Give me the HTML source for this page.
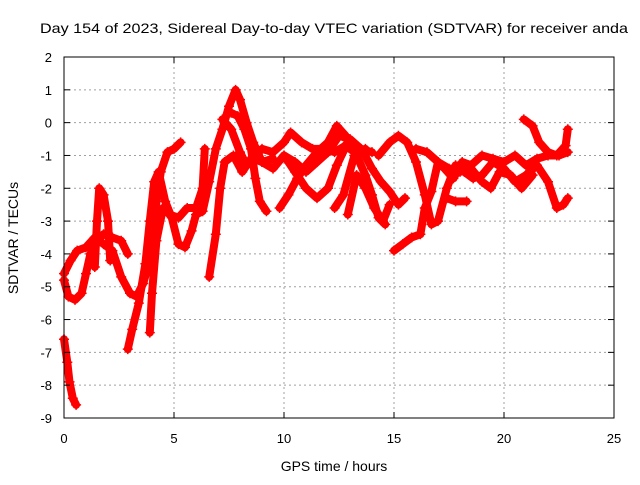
<!DOCTYPE html>
<html><head><meta charset="utf-8"><style>
body{margin:0;background:#fff;}
svg text{font-family:"Liberation Sans",sans-serif;fill:#000;}
</style></head><body>
<svg id="chart" width="640" height="480" viewBox="0 0 640 480" xmlns="http://www.w3.org/2000/svg">
<rect width="640" height="480" fill="#fff"/>
<text x="334" y="33" font-size="14" text-anchor="middle" textLength="588" lengthAdjust="spacingAndGlyphs">Day 154 of 2023, Sidereal Day-to-day VTEC variation (SDTVAR) for receiver anda</text>
<g id="grid"></g>
<g id="series"></g>
<rect x="64" y="57" width="550" height="361" fill="none" stroke="#000" stroke-width="1"/>
<g id="ticks"></g>
<text x="334" y="471" font-size="14" text-anchor="middle">GPS time / hours</text>
<text x="18" y="238" font-size="14" text-anchor="middle" transform="rotate(-90 18 238)">SDTVAR / TECUs</text>
</svg>
<script>
const xTicks=[0,5,10,15,20,25];
const yTicks=[2,1,0,-1,-2,-3,-4,-5,-6,-7,-8,-9];
const s1=[[0,-6.6],[0.15,-7.3],[0.25,-7.9],[0.4,-8.4],[0.55,-8.6]];
const s2=[[0,-4.6],[0.3,-4.2],[0.6,-3.9],[1.0,-3.8],[1.4,-3.5],[1.8,-3.7],[2.2,-3.9],[2.6,-4.7],[3.0,-5.2],[3.3,-5.3],[3.6,-4.9],[3.9,-4.2],[4.1,-2.9],[4.4,-1.5],[4.7,-0.9],[5.0,-0.8],[5.3,-0.6]];
const s3=[[0,-4.8],[0.2,-5.3],[0.5,-5.4],[0.8,-5.2],[1.0,-4.6],[1.2,-4.0],[1.5,-3.6],[1.8,-3.4],[2.2,-3.5],[2.6,-3.6],[2.9,-4.0]];
const s4=[[1.4,-4.4],[1.5,-3.0],[1.6,-2.0],[1.8,-2.2],[2.0,-3.0],[2.1,-4.2]];
const s5=[[2.9,-6.9],[3.1,-6.3],[3.4,-5.5],[3.7,-4.3],[3.9,-3.0],[4.1,-1.8],[4.3,-1.5],[4.6,-2.4],[4.9,-2.9],[5.2,-3.7],[5.5,-3.8],[5.8,-3.3],[6.0,-2.8],[6.3,-2.7],[6.6,-1.8],[6.9,-0.8],[7.2,-0.2],[7.5,0.5],[7.8,1.0],[8.0,0.7],[8.3,0.0],[8.6,-0.6],[9.0,-1.2],[9.5,-1.4],[10.0,-1.0],[10.5,-1.2],[11.0,-1.5],[11.5,-1.2],[12.0,-0.9],[12.5,-0.4],[13.0,-0.5],[13.5,-0.8],[14.0,-0.9]];
const s6=[[3.9,-6.4],[4.0,-5.2],[4.2,-3.6],[4.5,-2.6],[4.8,-2.8],[5.2,-2.9],[5.6,-2.6],[6.0,-2.6],[6.3,-2.0],[6.4,-0.8]];
const s7=[[6.6,-4.7],[6.9,-3.4],[7.1,-2.0],[7.3,-1.2],[7.7,-1.0],[8.1,-1.5],[8.5,-1.1],[9.0,-0.8],[9.5,-0.9],[10.0,-0.6],[10.3,-0.3],[10.8,-0.6],[11.3,-0.8],[11.8,-0.8],[12.3,-0.9],[12.8,-0.7],[13.2,-0.9],[13.7,-0.8]];
const s8=[[7.6,0.3],[7.9,0.2],[8.2,-0.2],[8.5,-0.8],[8.7,-1.7],[8.9,-2.4],[9.2,-2.7]];
const s9=[[7.2,0.1],[7.6,-0.2],[8.0,-0.9],[8.3,-1.3],[8.6,-1.1],[9.0,-1.2],[9.5,-1.1]];
const s10=[[9.8,-2.6],[10.2,-2.2],[10.6,-1.7],[11.0,-1.3],[11.5,-0.9],[12.0,-0.6],[12.4,-0.1],[12.8,-0.4]];
const s11=[[10.0,-1.0],[10.5,-1.5],[11.0,-2.0],[11.5,-2.3],[12.0,-2.0],[12.4,-1.3],[12.9,-0.6],[13.3,-1.0],[13.7,-1.6],[14.0,-2.2],[14.3,-2.9],[14.6,-3.1]];
const s12=[[12.3,-2.6],[12.7,-2.2],[13.2,-1.0],[13.6,-0.9],[14.0,-1.4],[14.4,-1.8],[14.8,-2.1],[15.2,-2.5],[15.5,-2.3]];
const s13=[[12.9,-2.8],[13.3,-1.6],[13.7,-2.0],[14.1,-2.6],[14.5,-3.0],[14.8,-2.5]];
const s14=[[15.0,-3.9],[15.4,-3.7],[15.8,-3.5],[16.2,-3.4],[16.4,-2.6],[16.7,-2.1],[17.0,-1.2],[17.3,-1.4],[17.7,-1.7],[18.1,-1.2],[18.5,-1.3],[19.0,-1.0],[19.5,-1.1],[20.0,-1.2],[20.5,-1.0],[21.0,-1.3],[21.5,-1.1],[22.0,-1.0],[22.5,-1.0],[22.9,-0.9]];
const s15=[[14.3,-1.0],[14.8,-0.6],[15.2,-0.4],[15.6,-0.6],[16.0,-1.2],[16.4,-2.2],[16.7,-3.1],[17.0,-3.0],[17.4,-2.0],[17.8,-1.3],[18.2,-1.5],[18.6,-1.7],[19.0,-1.6],[19.5,-1.2],[20.0,-1.4],[20.5,-1.8],[21.0,-1.6],[21.5,-1.3],[22.0,-1.8],[22.4,-2.6],[22.7,-2.5],[22.9,-2.3]];
const s16=[[17.4,-2.3],[17.8,-2.4],[18.3,-2.4]];
const s17=[[16.0,-0.8],[16.5,-0.9],[17.0,-1.2],[17.5,-1.4],[18.0,-1.5],[18.5,-1.4],[19.0,-1.8],[19.4,-2.0],[19.8,-1.5],[20.3,-1.6],[20.8,-2.0],[21.3,-1.6]];
const s18=[[20.9,0.1],[21.3,-0.1],[21.6,-0.6],[22.0,-0.9],[22.4,-1.0],[22.8,-0.7],[22.9,-0.2]];
const allSeries=[s1,s2,s3,s4,s5,s6,s7,s8,s9,s10,s11,s12,s13,s14,s15,s16,s17,s18];

const X0=64,X1=614,Y0=418,Y1=57;
const xs=v=>X0+(v-0)/(25-0)*(X1-X0);
const ys=v=>Y0-(v-(-9))/(2-(-9))*(Y0-Y1);
const NS="http://www.w3.org/2000/svg";
const grid=document.getElementById('grid'),ticks=document.getElementById('ticks'),ser=document.getElementById('series');
function mk(tag,attrs,parent){const e=document.createElementNS(NS,tag);for(const k in attrs)e.setAttribute(k,attrs[k]);parent.appendChild(e);return e;}
xTicks.forEach(t=>{const x=xs(t);
 if(t>0&&t<25){const g=mk('line',{x1:x,x2:x,y1:Y1,y2:Y0,stroke:'#a0a0a0','stroke-dasharray':'2,3'},grid);
 
 }
 mk('line',{x1:x,x2:x,y1:Y0,y2:Y0-6,stroke:'#000'},ticks);
 mk('line',{x1:x,x2:x,y1:Y1,y2:Y1+6,stroke:'#000'},ticks);
 const l=mk('text',{x:x,y:443,'font-size':13,'text-anchor':'middle'},ticks);l.textContent=t;
 
 });
yTicks.forEach(t=>{const y=ys(t);
 if(t<2&&t>-9){const g=mk('line',{x1:X0,x2:X1,y1:y,y2:y,stroke:'#a0a0a0','stroke-dasharray':'2,3'},grid);
 
 }
 mk('line',{x1:X0,x2:X0+6,y1:y,y2:y,stroke:'#000'},ticks);
 mk('line',{x1:X1,x2:X1-6,y1:y,y2:y,stroke:'#000'},ticks);
 const l=mk('text',{x:52,y:y+5,'font-size':13,'text-anchor':'end'},ticks);l.textContent=t;
 
 });
allSeries.forEach((s,i)=>{
 const pl=mk('polyline',{points:s.map(p=>xs(p[0])+','+ys(p[1])).join(' '),fill:'none',stroke:'#ff0000','stroke-width':8,'stroke-linejoin':'round','stroke-linecap':'round'},ser);
 
 
 s.forEach(p=>{const x=xs(p[0]),y=ys(p[1]);
  const m=mk('path',{d:`M${x-5},${y}H${x+5}M${x},${y-5}V${y+5}`,stroke:'#ff0000','stroke-width':1.5},ser);
  
  });
});
</script>
</body></html>
